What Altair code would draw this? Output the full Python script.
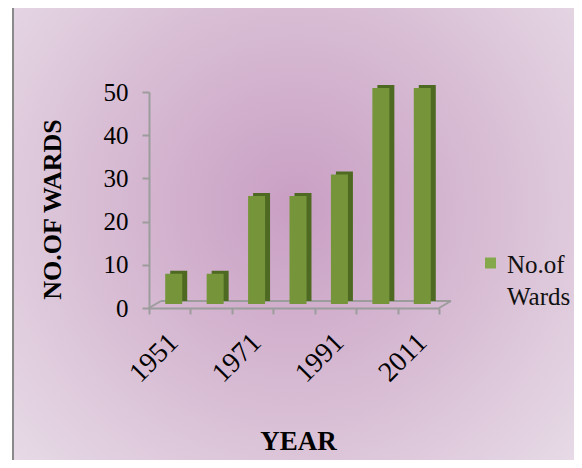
import json
import altair as alt
import pandas as pd

# ---- data ----
years = ["1951", "1961", "1971", "1981", "1991", "2001", "2011"]
wards = [7, 7, 25, 25, 30, 50, 50]
shown_labels = ["1951", "1971", "1991", "2011"]
y_ticks = [0, 10, 20, 30, 40, 50]
series_name = "No.of Wards"

df = pd.DataFrame({"year": years, "wards": wards})
one = pd.DataFrame({"k": [0]})
legend_df = pd.DataFrame({"label": [series_name]})

W, H = 290, 216
FONT = "Liberation Serif"
GREEN = "#76953a"
DARK = "#4e6a22"
GRAY = "#9c9c9c"

label_expr = f"indexof({json.dumps(shown_labels)}, datum.label) >= 0 ? datum.label : ''"

grad = alt.RadialGradient(
    gradient="radial",
    x1=0.5, y1=0.45, r1=0,
    x2=0.5, y2=0.45, r2=0.72,
    stops=[
        alt.GradientStop(offset=0, color="#c99fc4"),
        alt.GradientStop(offset=0.5, color="#d8bdd4"),
        alt.GradientStop(offset=1, color="#e9dfe9"),
    ],
)

bg = alt.Chart(one).mark_rect(fill=grad).encode(
    x=alt.value(-135), x2=alt.value(425), y=alt.value(-84), y2=alt.value(370)
)
border = alt.Chart(one).mark_rule(color="#8a8a8a", strokeWidth=2).encode(
    x=alt.value(-136), y=alt.value(-86), y2=alt.value(372)
)
floor_back = alt.Chart(one).mark_rule(color=GRAY, strokeWidth=2).encode(
    x=alt.value(12), x2=alt.value(W + 12), y=alt.value(H - 7)
)
floor_left = alt.Chart(one).mark_rule(color=GRAY, strokeWidth=2).encode(
    x=alt.value(0), x2=alt.value(12), y=alt.value(H), y2=alt.value(H - 7)
)
floor_right = alt.Chart(one).mark_rule(color=GRAY, strokeWidth=2).encode(
    x=alt.value(W), x2=alt.value(W + 12), y=alt.value(H), y2=alt.value(H - 7)
)

x_axis = alt.Axis(
    title="YEAR", titleFont=FONT, titleFontSize=27, titleFontWeight="bold",
    titleColor="black", titleX=149, titleY=133, titleAlign="center",
    titleBaseline="middle",
    labelExpr=label_expr, labelAngle=-45, labelFont=FONT, labelFontSize=28,
    labelColor="black", labelPadding=14, labelOffset=-6, labelOverlap=False,
    tickBand="extent", tickSize=6, tickWidth=2, tickColor=GRAY,
    domainColor=GRAY, domainWidth=2, grid=False, zindex=1,
)
y_axis = alt.Axis(
    title="NO.OF WARDS", titleFont=FONT, titleFontSize=26, titleFontWeight="bold",
    titleColor="black", titleX=-97, titleY=117, titleAlign="center",
    titleBaseline="middle", titleAngle=270,
    values=y_ticks, labelFont=FONT, labelFontSize=25, labelColor="black",
    labelPadding=14, tickSize=7, tickWidth=2, tickColor=GRAY,
    domainColor=GRAY, domainWidth=2, grid=False, zindex=1,
)

base = alt.Chart(df).encode(
    x=alt.X("year:N", sort=years,
            scale=alt.Scale(paddingInner=0, paddingOuter=0), axis=x_axis),
    y=alt.Y("wards:Q", scale=alt.Scale(domain=[0, 50], nice=False), axis=y_axis),
)
side = base.mark_bar(color=DARK, width=17, xOffset=9, yOffset=-7)
front = base.mark_bar(color=GREEN, width=17, xOffset=4, yOffset=-4)

leg_sym = alt.Chart(legend_df).mark_square(color="#86a84c", size=121, opacity=1).encode(
    x=alt.value(341.5), y=alt.value(171)
)
leg_txt = alt.Chart(legend_df).mark_text(
    font=FONT, fontSize=25, color="#111111", align="left",
    baseline="alphabetic", lineBreak=" ", lineHeight=32,
).encode(x=alt.value(358), y=alt.value(181), text="label:N")

chart = alt.layer(
    bg, border, floor_back, floor_left, floor_right, side, front, leg_sym, leg_txt
).properties(
    width=W, height=H,
    autosize=alt.AutoSizeParams(type="none"),
    padding={"left": 141, "top": 84, "right": 135, "bottom": 152},
    background="white",
).configure_view(stroke=None)

chart.save("out.html", embed_options={"renderer": "svg", "actions": False})
